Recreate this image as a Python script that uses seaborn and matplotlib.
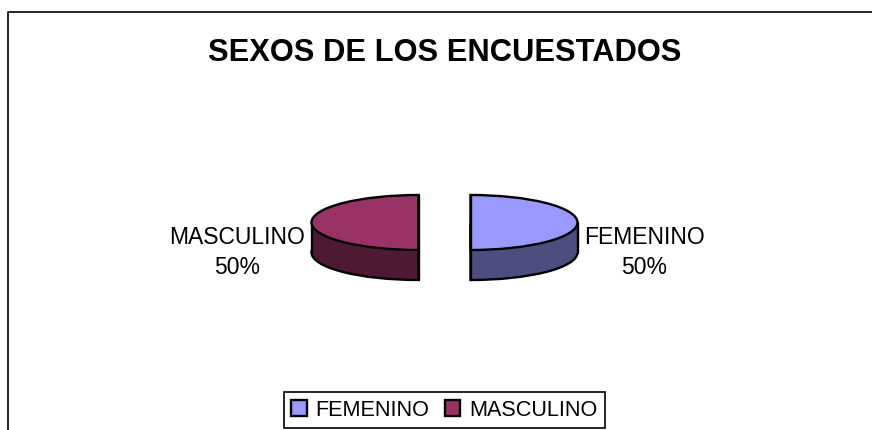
import numpy as np
import matplotlib.pyplot as plt
import seaborn as sns

categories = ['FEMENINO', 'MASCULINO']
values = [50, 50]
title = 'SEXOS DE LOS ENCUESTADOS'
top_colors = ['#9999FF', '#993366']
side_colors = ['#4D4D80', '#4D1933']

W, H = 872, 431
CX, CY = 444.5, 223.5   # pie centre in pixels
RX, RY = 107, 27.5      # ellipse radii in pixels
DEPTH = 30 / RY
GAP = 26 / RX
LW = 1.7

sns.set_theme(style='white')
plt.rcParams['font.family'] = ['Liberation Sans', 'DejaVu Sans']
plt.rcParams['text.color'] = 'black'

fig = plt.figure(figsize=(W / 100, H / 100), dpi=100, facecolor='white')
ax = fig.add_axes([0, 0, 1, 1])

# frame around the chart, open at the bottom and on the right
fig.add_artist(plt.Line2D([7.5 / W, 7.5 / W, 1], [0, 1 - 12.5 / H, 1 - 12.5 / H],
                          color='black', lw=1.2))

explode = [GAP] * len(values)
pie_kw = dict(startangle=90, counterclock=False, explode=explode, radius=1,
              wedgeprops=dict(edgecolor='black', linewidth=LW))

# side wall first: lower pie, then a block joining it to the upper one
ax.pie(values, colors=side_colors, center=(0, -DEPTH), **pie_kw)
for sign, col in zip([1, -1], side_colors):
    ax.fill_between([sign * GAP, sign * (GAP + 1)], -DEPTH, 0, color=col, lw=0, zorder=1.5)
    ax.plot([sign * (GAP + 1)] * 2, [-DEPTH, 0], color='black', lw=LW, zorder=1.6)
wedges, _ = ax.pie(values, colors=top_colors, **pie_kw)
for w in wedges:
    w.set_zorder(2)
# one straight cut edge over the full height, so the overlaps do not show
for sign in [1, -1]:
    ax.plot([sign * GAP] * 2, [1, -1 - DEPTH], color='black', lw=LW, zorder=3,
            solid_capstyle='round')

# pie() forces equal aspect, undo it to get the flattened ellipse
ax.set_aspect('auto')
ax.set_xlim(-CX / RX, (W - CX) / RX)
ax.set_ylim((CY - H) / RY, CY / RY)
ax.axis('off')

total = sum(values)
for sign, name, val in zip([1, -1], categories, values):
    px = 644.5 if sign > 0 else 237
    ax.text((px - CX) / RX, (CY - 252.5) / RY, f'{name}\n{val / total:.0%}',
            ha='center', va='center', fontsize=16.5, color='black', linespacing=1.41)

fig.text(445 / W, 1 - 53 / H, title, ha='center', va='center',
         fontsize=22.2, fontweight='bold', color='black')

leg = ax.legend(wedges, categories, loc='center', bbox_to_anchor=(444.5 / W, 1 - 411 / H),
                bbox_transform=fig.transFigure, ncol=2, fontsize=15.6, frameon=True,
                fancybox=False, edgecolor='black', framealpha=1, handlelength=0.7,
                handleheight=0.7, handletextpad=0.42, columnspacing=0.72, borderpad=0.36,
                labelcolor='black')
leg.get_frame().set_linewidth(1.2)

fig.savefig('out.png', dpi=100)
